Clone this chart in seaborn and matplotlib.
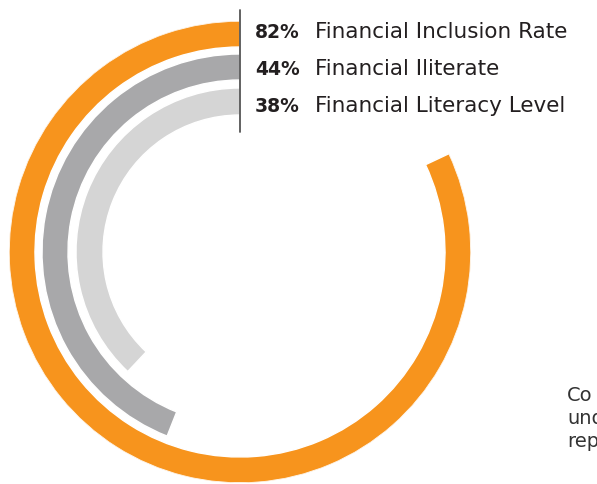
import numpy as np
import matplotlib
matplotlib.use("Agg")
import matplotlib.pyplot as plt
import seaborn as sns
from matplotlib.lines import Line2D

# Radial progress rings: share of the population per indicator
labels = ["Financial Inclusion Rate", "Financial Iliterate", "Financial Literacy Level"]
values = [82, 44, 38]
value_text = ["82%", "44%", "38%"]
colors = ["#F7941D", "#A8A8AA", "#D5D5D5"]
note_lines = ["Co", "und", "rep"]

sns.set_theme(style="white")
plt.rcParams["font.family"] = ["DejaVu Sans"]

W, H = 597, 484
fig = plt.figure(figsize=(W / 100, H / 100), dpi=100)
fig.patch.set_facecolor("white")

# polar axes centred on the divider line, 231 px outer radius
cx, cy, R = 240, 252, 231
ax = fig.add_axes([(cx - R) / W, (H - cy - R) / H, 2 * R / W, 2 * R / H], projection="polar")
ax.set_theta_zero_location("N")
ax.set_theta_direction(1)
ax.set_ylim(0, R)

ring_mid = [218, 185, 150.5]
ring_w = [26, 26, 27]
theta = [np.deg2rad(v / 100 * 360) for v in values]
ax.barh(ring_mid, theta, left=0, height=ring_w, color=colors, align="center")

ax.grid(False)
ax.set_xticks([])
ax.set_yticks([])
ax.spines["polar"].set_visible(False)
ax.patch.set_alpha(0)

# divider line next to the legend
fig.add_artist(Line2D([cx / W, cx / W], [1 - 10 / H, 1 - 132 / H], color="#555555", lw=1.3))

baselines = [38, 75, 112]
for vt, lab, yb in zip(value_text, labels, baselines):
    fig.text(255 / W, 1 - yb / H, vt, fontsize=13.5, fontweight="bold", color="#231F20",
             ha="left", va="baseline")
    fig.text(315 / W, 1 - yb / H, lab, fontsize=15.5, color="#231F20",
             ha="left", va="baseline")

for i, line in enumerate(note_lines):
    fig.text(567 / W, 1 - (401 + 23 * i) / H, line, fontsize=14, color="#333333",
             ha="left", va="baseline")

fig.savefig("out.png", dpi=100, facecolor="white")
